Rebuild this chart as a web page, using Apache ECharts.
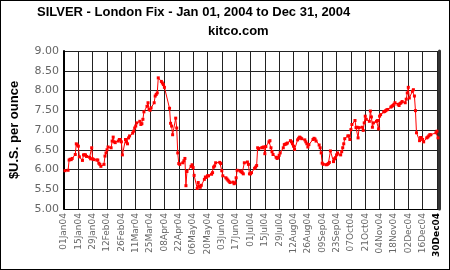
<!DOCTYPE html>
<html><head><meta charset="utf-8">
<script src="https://cdn.jsdelivr.net/npm/echarts@6/dist/echarts.min.js"></script>
<style>
html,body{margin:0;padding:0;background:#fff}
#c{width:450px;height:270px;position:absolute;left:0;top:0}
#frame{position:absolute;left:0;top:0;width:450px;height:270px;box-sizing:border-box;border:1px solid #000;pointer-events:none}
</style></head>
<body><div id="c"></div><div id="frame"></div>
<script>
// Trading days (day of month) and London silver fix prices (USD/oz), 2004
const janDays = [2,5,6,7,8,9,12,13,14,15,16,19,20,21,22,23,26,27,28,29,30];
const janPx   = [5.97,5.98,6.24,6.26,6.25,6.28,6.38,6.65,6.62,6.59,6.32,6.23,6.37,6.37,6.37,6.33,6.31,6.27,6.55,6.27,6.25];
const febDays = [2,3,4,5,6,9,10,11,12,13,16,17,18,19,20,23,24,25,26,27];
const febPx   = [6.24,6.24,6.16,6.13,6.08,6.13,6.34,6.42,6.50,6.57,6.55,6.72,6.82,6.70,6.68,6.72,6.76,6.76,6.70,6.37];
const marDays = [1,2,3,4,5,8,9,10,11,12,15,16,17,18,19,22,23,24,25,26,29,30,31];
const marPx   = [6.76,6.70,6.65,6.80,6.85,6.92,6.97,7.05,7.10,7.18,7.22,7.14,7.16,7.27,7.46,7.60,7.69,7.52,7.50,7.56,7.69,7.86,7.90];
const aprDays = [1,2,5,6,7,8,13,14,15,16,19,20,21,22,23,26,27,28,29,30];
const aprPx   = [7.94,8.32,8.23,8.19,8.15,8.08,7.55,7.17,7.10,6.88,7.30,7.05,6.42,6.15,6.13,6.17,6.22,6.28,5.59,5.95];
const mayDays = [4,5,6,7,10,11,12,13,14,17,18,19,20,21,24,25,26,27,28];
const mayPx   = [6.08,6.12,6.05,5.85,5.52,5.67,5.58,5.55,5.60,5.75,5.81,5.80,5.84,5.84,5.88,5.92,6.06,6.09,6.17];
const junDays = [1,2,3,4,7,8,9,10,11,14,15,16,17,18,21,22,23,24,25,28,29,30];
const junPx   = [6.18,6.15,5.97,5.84,5.79,5.76,5.73,5.70,5.67,5.68,5.64,5.66,5.79,5.98,5.96,5.94,5.92,5.89,6.17,6.19,6.13,5.89];
const julDays = [1,2,5,6,7,8,9,12,13,14,15,16,19,20,21,22,23,26,27,28,29,30];
const julPx   = [5.89,5.92,6.03,6.06,6.10,6.55,6.53,6.55,6.56,6.57,6.40,6.58,6.70,6.73,6.55,6.45,6.38,6.31,6.28,6.30,6.36,6.42];
const augDays = [2,3,4,5,6,9,10,11,12,13,16,17,18,19,20,23,24,25,26,27,31];
const augPx   = [6.55,6.63,6.64,6.65,6.67,6.73,6.70,6.65,6.59,6.51,6.75,6.79,6.82,6.80,6.78,6.75,6.70,6.65,6.57,6.63,6.76];
const sepDays = [1,2,3,6,7,8,9,10,13,14,15,16,17,20,21,22,23,24,27,28,29,30];
const sepPx   = [6.79,6.77,6.72,6.62,6.55,6.42,6.16,6.13,6.12,6.13,6.15,6.18,6.47,6.20,6.27,6.30,6.37,6.42,6.37,6.45,6.55,6.65];
const octDays = [1,4,5,6,7,8,11,12,13,14,15,18,19,20,21,22,25,26,27,28,29];
const octPx   = [6.78,6.85,6.85,6.76,7.01,7.14,7.24,7.06,7.07,6.80,7.06,7.07,6.99,7.18,7.35,7.27,7.22,7.48,7.33,7.07,7.18];
const novDays = [1,2,3,4,5,8,9,10,11,12,15,16,17,18,19,22,23,24,25,26,29,30];
const novPx   = [7.22,7.24,7.03,7.35,7.39,7.46,7.47,7.49,7.51,7.52,7.58,7.60,7.62,7.65,7.69,7.65,7.62,7.67,7.69,7.72,7.69,7.78];
const decDays = [1,2,3,6,7,8,9,10,13,14,15,16,17,20,21,22,23,24,29,30,31];
const decPx   = [7.94,8.08,7.81,7.98,8.02,7.86,7.49,6.93,6.73,6.81,6.80,6.76,6.70,6.80,6.82,6.85,6.88,6.88,6.93,6.97,6.80];

const xTickLabels = ['01Jan04','15Jan04','29Jan04','12Feb04','26Feb04','11Mar04','25Mar04','08Apr04','22Apr04','06May04','20May04','03Jun04','17Jun04','01Jul04','15Jul04','29Jul04','12Aug04','26Aug04','09Sep04','23Sep04','07Oct04','21Oct04','04Nov04','18Nov04','02Dec04','16Dec04','30Dec04'];
const yTickValues = [5.0,5.5,6.0,6.5,7.0,7.5,8.0,8.5,9.0];

const months = [[janDays,janPx],[febDays,febPx],[marDays,marPx],[aprDays,aprPx],[mayDays,mayPx],[junDays,junPx],[julDays,julPx],[augDays,augPx],[sepDays,sepPx],[octDays,octPx],[novDays,novPx],[decDays,decPx]];
const t0 = Date.UTC(2004,0,1);
const seriesData = [];
months.forEach(([days,px],m)=>{
  days.forEach((d,i)=>{
    seriesData.push([(Date.UTC(2004,m,d)-t0)/86400000, px[i]]);
  });
});

const chart = echarts.init(document.getElementById('c'), null, {renderer:'canvas'});
chart.setOption({
  animation:false,
  backgroundColor:'#fff',
  title:[
    {text:'SILVER - London Fix - Jan 01, 2004 to Dec 31, 2004', left:37, top:6, padding:0,
     textStyle:{fontFamily:'Liberation Sans, Arial', fontSize:13, fontWeight:'bold', color:'#000'}},
    {text:'kitco.com', left:208, top:25, padding:0,
     textStyle:{fontFamily:'Liberation Sans, Arial', fontSize:13, fontWeight:'bold', color:'#000'}}
  ],
  grid:{left:54, right:12, top:51, bottom:61, containLabel:false},
  xAxis:{
    type:'value', min:0, max:365, interval:14,
    axisLine:{show:true, lineStyle:{color:'#000', width:1}},
    axisTick:{show:false},
    splitLine:{show:true, lineStyle:{color:'#222', width:1}},
    axisLabel:{
      rotate:90, margin:4, fontFamily:'DejaVu Sans', fontSize:9, color:'#666',
      showMinLabel:true, showMaxLabel:true,
      formatter:(v)=>{
        const i = Math.round(v/14);
        if (v % 14 !== 0 || i >= xTickLabels.length) return '';
        return i === xTickLabels.length-1 ? '{b|'+xTickLabels[i]+'}' : xTickLabels[i];
      },
      rich:{b:{fontFamily:'DejaVu Sans', fontSize:9, fontWeight:'bold', color:'#000'}}
    }
  },
  yAxis:[{
    type:'value', min:yTickValues[0], max:yTickValues[yTickValues.length-1], interval:0.5,
    name:'$U.S. per ounce', nameLocation:'middle', nameGap:43,
    nameTextStyle:{fontFamily:'Liberation Sans, Arial', fontSize:13, fontWeight:'bold', color:'#000'},
    axisLine:{show:true, lineStyle:{color:'#000', width:2}},
    axisTick:{show:false},
    splitLine:{show:true, lineStyle:{color:'#222', width:1}},
    axisLabel:{margin:5, fontFamily:'DejaVu Sans', fontSize:11, color:'#666', formatter:(v)=>v.toFixed(2)}
  },{
    type:'value', min:5, max:9, position:'right', offset:1,
    axisLine:{show:true, lineStyle:{color:'#333', width:3}},
    axisTick:{show:false}, axisLabel:{show:false}, splitLine:{show:false}
  }],
  series:[{
    type:'line', data:seriesData, yAxisIndex:0,
    symbol:'rect', symbolSize:3, showAllSymbol:true,
    lineStyle:{color:'#ff0000', width:1},
    itemStyle:{color:'#ff0000'}
  }]
});
</script></body></html>
